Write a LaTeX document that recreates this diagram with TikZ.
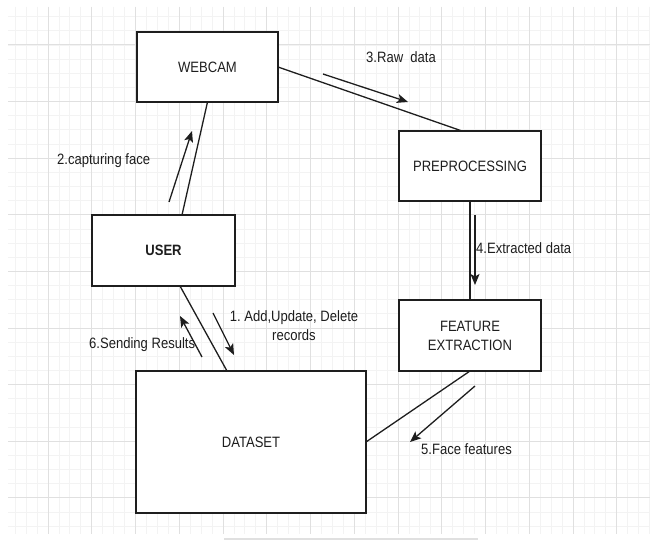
\documentclass[tikz,border=0pt]{standalone}
\usepackage{fontspec}
\newfontfamily\lab[FakeStretch=0.87]{Liberation Sans}
\usetikzlibrary{arrows.meta,calc}
\frenchspacing
\definecolor{gmajor}{HTML}{E0E0E0}
\definecolor{gminor}{HTML}{F3F3F3}
\definecolor{ink}{HTML}{1E1E1E}
\tikzset{
  boxnode/.style={draw=ink,line width=1.6pt,fill=white,inner sep=0pt,outer sep=0pt,
    font=\lab\fontsize{15}{19}\selectfont,text=ink,align=center},
  txt/.style={font=\lab\fontsize{15}{19}\selectfont,text=ink,inner sep=0pt,align=center},
  link/.style={draw=ink,line width=1.3pt},
  flow/.style={draw=ink,line width=1.3pt,-{Stealth[length=11pt,width=9pt,inset=2.5pt]}},
  minorline/.style={draw=gminor,line width=0.8pt},
  majorline/.style={draw=gmajor,line width=1pt}
}
\begin{document}
\begin{tikzpicture}[x=1pt,y=-1pt]
\useasboundingbox (0,0) rectangle (650,540);
\fill[white] (0,0) rectangle (650,540);
% grid
\begin{scope}
\clip (8,7) rectangle (650,534);
\foreach \i in {-3,...,55} {\draw[minorline] ({48+10.9375*\i},7) -- ({48+10.9375*\i},534);}
\foreach \k in {-2,...,34} {\draw[minorline] (8,{45+14.15*\k}) -- (650,{45+14.15*\k});}
\foreach \i in {0,...,13} {\draw[majorline] ({48+43.75*\i},7) -- ({48+43.75*\i},534);}
\foreach \k in {0,...,8} {\draw[majorline] (8,{45+56.6*\k}) -- (650,{45+56.6*\k});}
\end{scope}
\fill[gmajor] (224,537.5) rectangle (478,540);

% boxes
\node[boxnode,minimum width=141pt,minimum height=70pt] (webcam) at (207.5,67) {WEBCAM};
\node[boxnode,minimum width=142pt,minimum height=70pt] (pre) at (470,166) {PREPROCESSING};
\node[boxnode,minimum width=143pt,minimum height=71pt] (user) at (163.5,250.5) {\bfseries USER};
\node[boxnode,minimum width=142pt,minimum height=71pt] (feat) at (470,335.5) {FEATURE\\EXTRACTION};
\node[boxnode,minimum width=230pt,minimum height=142pt] (dataset) at (251,442) {DATASET};

% connecting lines
\draw[link] (webcam.east) -- ($(pre.north)+(-8,0)$);
\draw[link] (webcam.south) -- ($(user.north)+(18.5,0)$);
\draw[link] (pre.south) -- (feat.north);
\draw[link] ($(user.south)+(16.5,0)$) -- ($(dataset.north)+(-24,0)$);
\draw[link] (feat.south) -- (dataset.east);

% flow arrows
\coordinate (a3s) at (323,74);  \coordinate (a3e) at (408,102);
\coordinate (a2s) at (169,202); \coordinate (a2e) at (192,131);
\coordinate (a4s) at (475,215); \coordinate (a4e) at (475,285);
\coordinate (a6s) at (202,357); \coordinate (a6e) at (180,316);
\coordinate (a1s) at (213,313); \coordinate (a1e) at (234,355);
\coordinate (a5s) at (475,386); \coordinate (a5e) at (410,442);
\draw[flow] (a3s) -- (a3e);
\draw[flow] (a2s) -- (a2e);
\draw[flow] (a4s) -- (a4e);
\draw[flow] (a6s) -- (a6e);
\draw[flow] (a1s) -- (a1e);
\draw[flow] (a5s) -- (a5e);

% labels
\node[txt,anchor=west] (l3) at (366,57) {3.Raw\ \ data};
\node[txt,anchor=west] (l2) at (57,161) {2.capturing face};
\node[txt,anchor=west] (l4) at (476,248) {4.Extracted data};
\node[txt] (l1) at (294,325.5) {1. Add,Update, Delete\\records};
\node[txt,anchor=west] (l6) at (89,345) {6.Sending Results};
\node[txt,anchor=west] (l5) at (421,449) {5.Face features};
\end{tikzpicture}
\end{document}
